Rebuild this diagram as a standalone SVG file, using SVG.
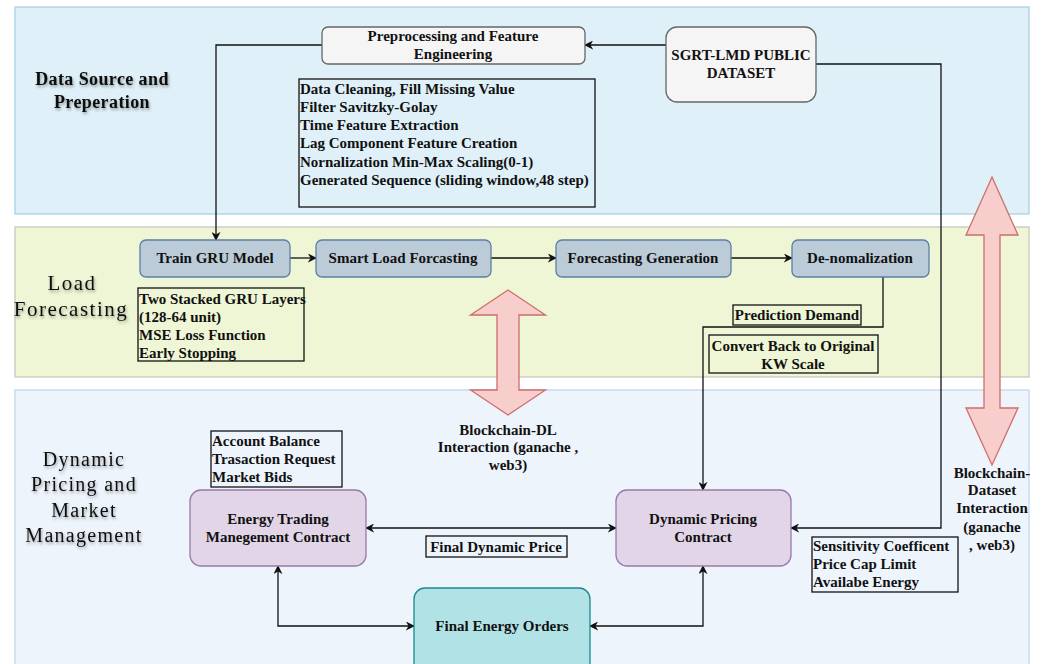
<svg xmlns="http://www.w3.org/2000/svg" width="1046" height="664" viewBox="0 0 1046 664">
<style>
.t{font-family:"Liberation Serif","DejaVu Serif",serif;font-weight:bold;font-size:15px;fill:#111}
.c{text-anchor:middle}
.band{font-family:"Liberation Serif","DejaVu Serif",serif;fill:#111;text-anchor:middle}
.box{fill:#ffffff;fill-opacity:0;stroke:#111;stroke-width:1.3}
.gru{fill:#bccbd8;stroke:#5b7fa3;stroke-width:1.3}
.pur{fill:#e2d5e7;stroke:#9a78ab;stroke-width:1.3}
.gray{fill:#f5f5f5;stroke:#666;stroke-width:1.3}
.conn{fill:none;stroke:#111;stroke-width:1.3}
.big{fill:#f8cecc;stroke:#cc6e6a;stroke-width:1.3}
</style>
<defs>
<marker id="ah" viewBox="0 0 10 10" refX="9" refY="5" markerWidth="9" markerHeight="9" markerUnits="userSpaceOnUse" orient="auto-start-reverse">
<path d="M0,0 L10,5 L0,10 L3,5 z" fill="#111"/>
</marker>
<filter id="sh" x="-20%" y="-30%" width="140%" height="160%">
<feDropShadow dx="1" dy="2" stdDeviation="1.5" flood-color="#000" flood-opacity="0.35"/>
</filter>
</defs>
<rect width="1046" height="664" fill="#ffffff"/>
<g id="bands">
<rect x="15" y="7" width="1014" height="207" fill="#dff0f8" stroke="#a9d2e6" stroke-width="1.3"/>
<rect x="15" y="227" width="1014" height="150" fill="#eef6d5" stroke="#c6c9bf" stroke-width="1.3"/>
<rect x="15" y="390" width="1014" height="290" fill="#eef4fc" stroke="#c3d6ef" stroke-width="1.3"/>
<g filter="url(#sh)">
<text class="band" font-weight="bold" font-size="18" letter-spacing="0.4" x="102" y="85">Data Source and</text>
<text class="band" font-weight="bold" font-size="18" letter-spacing="0.4" x="102" y="108">Preperation</text>
<text class="band" font-size="21" letter-spacing="1.5" x="72" y="290">Load</text>
<text class="band" font-size="21" letter-spacing="1.5" x="71" y="316">Forecasting</text>
<text class="band" font-size="20" letter-spacing="1.3" x="84" y="466">Dynamic</text>
<text class="band" font-size="20" letter-spacing="1.3" x="84" y="491">Pricing and</text>
<text class="band" font-size="20" letter-spacing="1.3" x="84" y="517">Market</text>
<text class="band" font-size="20" letter-spacing="1.3" x="84" y="542">Management</text>
</g>
</g>
<g id="big-arrows">
<polygon class="big" points="508,290 545.5,315 519,315 519,390 545.5,390 508,415 470.5,390 497,390 497,315 470.5,315"/>
<polygon class="big" points="992,177 1018,235 1000,235 1000,408 1018,408 992,465 966,408 984,408 984,235 966,235"/>
</g>
<g id="connectors">
<path class="conn" d="M666,45 L585,45" marker-end="url(#ah)"/>
<path class="conn" d="M322,45 L216,45 L216,240" marker-end="url(#ah)"/>
<path class="conn" d="M816,64 L941,64 L941,528 L791,528" marker-end="url(#ah)"/>
<path class="conn" d="M290,258 L316,258" marker-end="url(#ah)"/>
<path class="conn" d="M491,258 L556,258" marker-end="url(#ah)"/>
<path class="conn" d="M731,258 L792,258" marker-end="url(#ah)"/>
<path class="conn" d="M883,277 L883,327 L703,327 L703,490" marker-end="url(#ah)"/>
<path class="conn" d="M366,528 L616,528" marker-start="url(#ah)" marker-end="url(#ah)"/>
<path class="conn" d="M278,566 L278,626 L414,626" marker-start="url(#ah)" marker-end="url(#ah)"/>
<path class="conn" d="M703,566 L703,626 L590,626" marker-start="url(#ah)" marker-end="url(#ah)"/>
</g>
<g id="preprocessing">
<rect class="gray" x="322" y="27" width="263" height="37" rx="6"/>
<text class="t c" x="453" y="41">Preprocessing and Feature</text>
<text class="t c" x="453" y="59">Engineering</text>
</g>
<g id="sgrt-dataset">
<rect class="gray" x="666" y="27" width="150" height="75" rx="11"/>
<text class="t c" x="741" y="60">SGRT-LMD PUBLIC</text>
<text class="t c" x="741" y="78">DATASET</text>
</g>
<g id="preprocessing-steps">
<rect class="box" x="299" y="79" width="296" height="128"/>
<text class="t" x="300" y="94">Data Cleaning, Fill Missing Value</text>
<text class="t" x="300" y="112">Filter Savitzky-Golay</text>
<text class="t" x="300" y="130">Time Feature Extraction</text>
<text class="t" x="300" y="148">Lag Component Feature Creation</text>
<text class="t" x="300" y="167">Nornalization Min-Max Scaling(0-1)</text>
<text class="t" x="300" y="185">Generated Sequence (sliding window,48 step)</text>
</g>
<g id="train-gru">
<rect class="gru" x="140" y="240" width="150" height="37" rx="6"/>
<text class="t c" x="215" y="263">Train GRU Model</text>
</g>
<g id="smart-load">
<rect class="gru" x="316" y="240" width="175" height="37" rx="6"/>
<text class="t c" x="403" y="263">Smart Load Forcasting</text>
</g>
<g id="forecast-gen">
<rect class="gru" x="556" y="240" width="175" height="37" rx="6"/>
<text class="t c" x="643" y="263">Forecasting Generation</text>
</g>
<g id="denorm">
<rect class="gru" x="792" y="240" width="137" height="37" rx="6"/>
<text class="t c" x="860" y="263">De-nomalization</text>
</g>
<g id="gru-details">
<rect class="box" x="138" y="288" width="166" height="73"/>
<text class="t" x="139" y="304">Two Stacked GRU Layers</text>
<text class="t" x="139" y="322">(128-64 unit)</text>
<text class="t" x="139" y="340">MSE Loss Function</text>
<text class="t" x="139" y="358">Early Stopping</text>
</g>
<g id="prediction-demand">
<rect class="box" x="733" y="305" width="128" height="20"/>
<text class="t c" x="797" y="320">Prediction Demand</text>
</g>
<g id="convert-back">
<rect class="box" x="709" y="335" width="169" height="38"/>
<text class="t c" x="793" y="351">Convert Back to Original</text>
<text class="t c" x="793" y="369">KW Scale</text>
</g>
<g id="blockchain-dl-label">
<text class="t c" x="508" y="435">Blockchain-DL</text>
<text class="t c" x="508" y="452">Interaction (ganache ,</text>
<text class="t c" x="508" y="470">web3)</text>
</g>
<g id="blockchain-dataset-label">
<text class="t c" x="992" y="478">Blockchain-</text>
<text class="t c" x="992" y="495">Dataset</text>
<text class="t c" x="992" y="513">Interaction</text>
<text class="t c" x="992" y="532">(ganache</text>
<text class="t c" x="992" y="550">, web3)</text>
</g>
<g id="account-info">
<rect class="box" x="211" y="431" width="131" height="56"/>
<text class="t" x="212" y="446">Account Balance</text>
<text class="t" x="212" y="464">Trasaction Request</text>
<text class="t" x="212" y="482">Market Bids</text>
</g>
<g id="energy-trading">
<rect class="pur" x="190" y="490" width="176" height="76" rx="11"/>
<text class="t c" x="278" y="524">Energy Trading</text>
<text class="t c" x="278" y="542">Manegement Contract</text>
</g>
<g id="dynamic-pricing">
<rect class="pur" x="616" y="490" width="175" height="76" rx="11"/>
<text class="t c" x="703" y="524">Dynamic Pricing</text>
<text class="t c" x="703" y="542">Contract</text>
</g>
<g id="final-dynamic-price">
<rect class="box" x="426" y="536" width="141" height="21"/>
<text class="t c" x="496" y="552">Final Dynamic Price</text>
</g>
<g id="sensitivity">
<rect class="box" x="812" y="537" width="146" height="55"/>
<text class="t" x="813" y="551">Sensitivity Coefficent</text>
<text class="t" x="813" y="569">Price Cap Limit</text>
<text class="t" x="813" y="587">Availabe Energy</text>
</g>
<g id="final-energy-orders">
<rect x="414" y="588" width="176" height="90" rx="11" fill="#b1e3e6" stroke="#1a8a90" stroke-width="1.3"/>
<text class="t c" x="502" y="631">Final Energy Orders</text>
</g>
</svg>
